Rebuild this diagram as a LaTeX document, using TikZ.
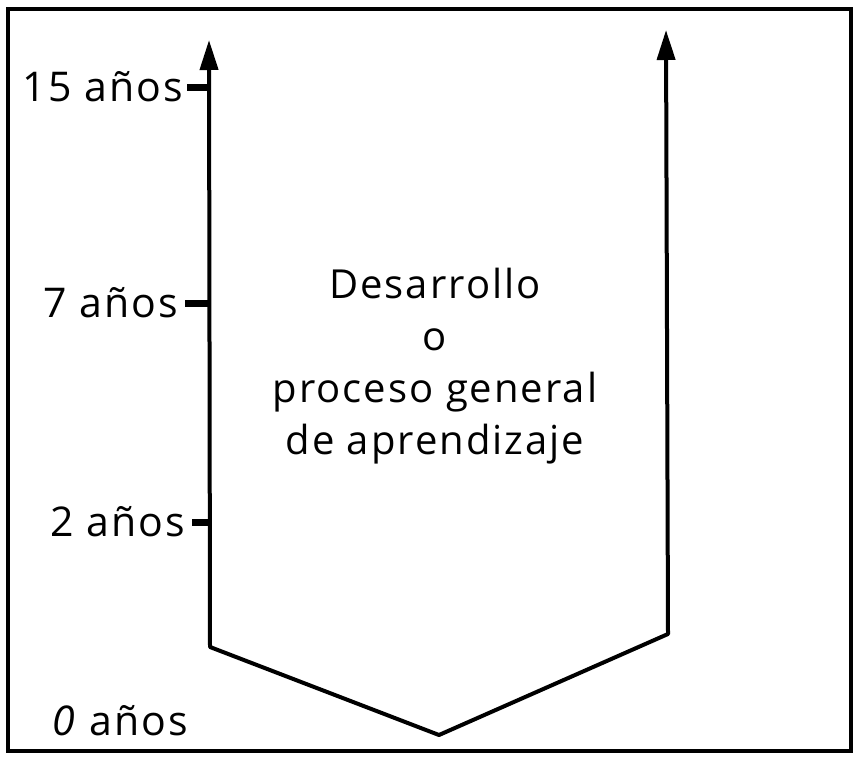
\documentclass[tikz,border=0pt]{standalone}
\usepackage{fontspec}
\setmainfont{Open Sans}[LetterSpace=5]
\usetikzlibrary{arrows.meta}

\begin{document}
\begin{tikzpicture}[x=1pt,y=-1pt,
    trait/.style={line width=4pt, line join=round},
    fleche/.tip={Triangle[length=30pt,width=18pt]},
    etiq/.style={font=\fontsize{41}{44}\selectfont, inner sep=0pt, anchor=base east},
    cran/.style={line width=7pt}]
    \useasboundingbox (0,0) rectangle (853,762);
    % cadre
    \draw[line width=3.5pt] (8,9) rectangle (851,751);
    % définition des points
    \coordinate (G) at (209,40);
    \coordinate (GB) at (210,647);
    \coordinate (V) at (439,735);
    \coordinate (DB) at (668,634);
    \coordinate (D) at (666,30);
    % tracer
    \draw[trait, fleche-fleche] (G) -- (GB) -- (V) -- (DB) -- (D);
    % les âges
    \node[etiq] (a15) at (183,102) {15 años};
    \node[etiq] (a7) at (178,317) {7 años};
    \node[etiq] (a2) at (185,536) {2 años};
    \node[etiq] (a0) at (188,735) {\textit{0} años};
    \foreach \a/\d in {a15/4,a7/7,a2/7}
      \draw[cran] ([xshift=\d pt,yshift=14pt]\a.base east) -- ([yshift=14pt]\a.base east -| G);
    % le texte
    \node[font=\fontsize{40}{52}\selectfont, align=center, inner sep=0pt]
      (txt) at (435,366) {Desarrollo\\o\\proceso general\\de aprendizaje};
\end{tikzpicture}
\end{document}
